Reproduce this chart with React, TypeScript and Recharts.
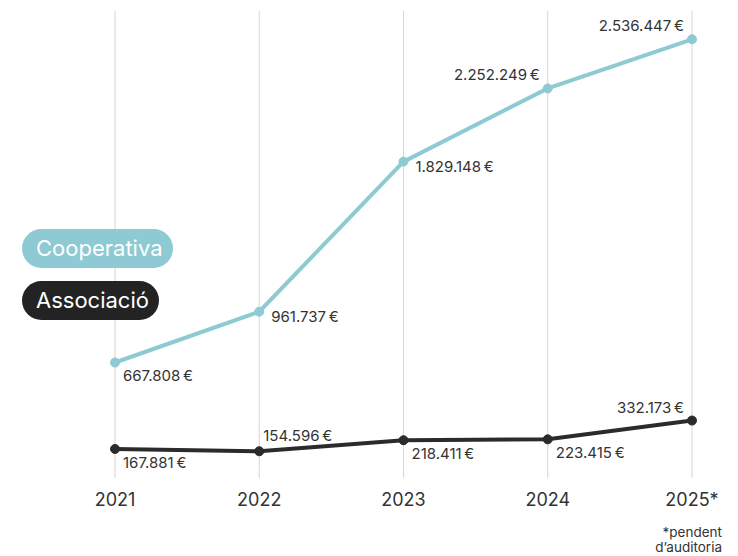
import React from "react";
import { LineChart, Line, XAxis, YAxis, CartesianGrid, LabelList } from "recharts";

const years = ["2021", "2022", "2023", "2024", "2025*"];
const cooperativa = [667808, 961737, 1829148, 2252249, 2536447];
const associacio = [167881, 154596, 218411, 223415, 332173];
const coopLabelPlace = ["br", "r", "r", "tl", "tl"];
const assocLabelPlace = ["br", "tr", "br", "br", "tl"];

const data = years.map((y, i) => ({ year: y, coop: cooperativa[i], assoc: associacio[i] }));

const fmt = (v: number) => v.toLocaleString("de-DE") + "\u202F€";

const FONT = "Inter, 'DejaVu Sans', sans-serif";

const makeLabel = (places: string[]) => (props: any) => {
  const { x, y, value, index } = props;
  const p = places[index];
  let dx = 8, dy = 19, anchor: "start" | "end" = "start";
  if (p === "r") { dx = 12; dy = 10; }
  if (p === "tr") { dx = 4; dy = -10; }
  if (p === "tl") { dx = -8; dy = -8; anchor = "end"; }
  return (
    <text x={x + dx} y={y + dy} textAnchor={anchor} fontSize={15} fill="#333" fontFamily={FONT}>
      {fmt(value)}
    </text>
  );
};

const Pill = ({ top, bg, text }: { top: number; bg: string; text: string }) => (
  <div
    style={{
      position: "absolute",
      left: 22,
      top,
      height: 39,
      padding: "0 10px 0 14px",
      borderRadius: 20,
      background: bg,
      color: "#fff",
      fontFamily: FONT,
      fontSize: 22,
      lineHeight: "39px",
      whiteSpace: "nowrap",
    }}
  >
    {text}
  </div>
);

const noteStyle: React.CSSProperties = {
  position: "absolute",
  right: 16,
  textAlign: "right",
  fontFamily: FONT,
  fontSize: 13.5,
  lineHeight: "13px",
  color: "#333",
  whiteSpace: "nowrap",
};

export default function App() {
  return (
    <div style={{ position: "absolute", left: 0, top: 0, width: 738, height: 556, background: "#fff" }}>
      <LineChart width={738} height={556} data={data} margin={{ top: 11, right: 46, bottom: 48, left: 115 }}>
        <CartesianGrid vertical horizontal={false} stroke="#d9d5d1" strokeWidth={1} />
        <XAxis
          dataKey="year"
          axisLine={false}
          tickLine={false}
          padding={{ left: 0, right: 0 }}
          tick={{ fontSize: 18, fill: "#333", fontFamily: FONT }}
          tickMargin={9}
          interval={0}
        />
        <YAxis hide domain={[0, 2700000]} />
        <Line
          dataKey="coop"
          stroke="#8ecad3"
          strokeWidth={4}
          dot={{ r: 4.5, fill: "#8ecad3", stroke: "#8ecad3", strokeWidth: 1 }}
          isAnimationActive={false}
        >
          <LabelList dataKey="coop" content={makeLabel(coopLabelPlace)} />
        </Line>
        <Line
          dataKey="assoc"
          stroke="#2b2b2b"
          strokeWidth={4}
          dot={{ r: 4.5, fill: "#2b2b2b", stroke: "#2b2b2b", strokeWidth: 1 }}
          isAnimationActive={false}
        >
          <LabelList dataKey="assoc" content={makeLabel(assocLabelPlace)} />
        </Line>
      </LineChart>
      <Pill top={229} bg="#8ecad3" text="Cooperativa" />
      <Pill top={281} bg="#232323" text="Associació" />
      <div style={{ ...noteStyle, top: 526 }}>*pendent</div>
      <div style={{ ...noteStyle, top: 541 }}>d’auditoria</div>
    </div>
  );
}
